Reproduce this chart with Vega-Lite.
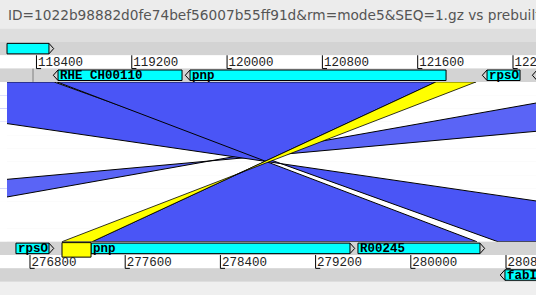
{
  "$schema": "https://vega.github.io/schema/vega-lite/v6.json",
  "width": 536,
  "height": 295,
  "autosize": {"type": "none"},
  "padding": 0,
  "background": "#ececec",
  "title": {
    "text": "ID=1022b98882d0fe74bef56007b55ff91d&rm=mode5&SEQ=1.gz vs prebuilt",
    "anchor": "start", "frame": "group", "offset": 0, "dx": 8, "dy": 33.5,
    "baseline": "alphabetic", "font": "DejaVu Sans", "fontSize": 13.7,
    "fontWeight": "normal", "color": "#555555", "limit": 0
  },
  "config": {"view": {"stroke": null}, "axis": {"disable": true}, "legend": {"disable": true}},
  "datasets": {
    "lanes": [
      {"lane": "t0", "kind": "titlebar"}, {"lane": "t1", "kind": "titlebar"}, {"lane": "t2", "kind": "toolbar"},
      {"lane": "top_fwd", "kind": "track"}, {"lane": "top_scale", "kind": "ruler"}, {"lane": "top_rev", "kind": "track"},
      {"lane": "c01", "kind": "comparison"}, {"lane": "c02", "kind": "comparison"}, {"lane": "c03", "kind": "comparison"},
      {"lane": "c04", "kind": "comparison"}, {"lane": "c05", "kind": "comparison"}, {"lane": "c06", "kind": "comparison"},
      {"lane": "c07", "kind": "comparison"}, {"lane": "c08", "kind": "comparison"}, {"lane": "c09", "kind": "comparison"},
      {"lane": "c10", "kind": "comparison"}, {"lane": "c11", "kind": "comparison"}, {"lane": "c12", "kind": "comparison"},
      {"lane": "bot_fwd", "kind": "track"}, {"lane": "bot_scale", "kind": "ruler"}, {"lane": "bot_rev", "kind": "track"},
      {"lane": "b_end", "kind": "statusbar"}
    ],
    "matches": [
      {"match": "M2", "class": "weaker", "lane": "c01", "from": 123592, "to": 127160},
      {"match": "M2", "class": "weaker", "lane": "bot_fwd", "from": 116037, "to": 112386},
      {"match": "M0", "class": "main", "lane": "c01", "from": 115760, "to": 118547},
      {"match": "M0", "class": "main", "lane": "bot_fwd", "from": 124935, "to": 122274},
      {"match": "M1", "class": "main", "lane": "c01", "from": 118572, "to": 121754},
      {"match": "M1", "class": "main", "lane": "bot_fwd", "from": 122098, "to": 118866},
      {"match": "Y", "class": "selected", "lane": "c01", "from": 121754, "to": 122090},
      {"match": "Y", "class": "selected", "lane": "bot_fwd", "from": 118866, "to": 118614}
    ],
    "top_features": [
      {"name": "", "lane": "top_fwd", "start": 118153, "end": 118505, "strand": "+"},
      {"name": "RHE_CH00110", "lane": "top_rev", "start": 118581, "end": 119622, "strand": "-"},
      {"name": "pnp", "lane": "top_rev", "start": 119689, "end": 121838, "strand": "-"},
      {"name": "rpsO", "lane": "top_rev", "start": 122182, "end": 122459, "strand": "-"},
      {"name": "", "lane": "top_rev", "start": 122602, "end": 123000, "strand": "-"}
    ],
    "top_ticks": [
      {"pos": 118400, "lane": "top_scale"}, {"pos": 119200, "lane": "top_scale"}, {"pos": 120000, "lane": "top_scale"},
      {"pos": 120800, "lane": "top_scale"}, {"pos": 121600, "lane": "top_scale"}, {"pos": 122400, "lane": "top_scale"}
    ],
    "top_markers": [{"pos": 118371, "lane": "top_rev"}],
    "bottom_features": [
      {"name": "rpsO", "lane": "bot_fwd", "start": 276682, "end": 276960, "strand": "+"},
      {"name": "pnp", "lane": "bot_fwd", "start": 277313, "end": 279489, "strand": "+"},
      {"name": "R00245", "lane": "bot_fwd", "start": 279556, "end": 280581, "strand": "+"},
      {"name": "fabI", "lane": "bot_rev", "start": 280791, "end": 281300, "strand": "-"}
    ],
    "bottom_selection": [{"lane": "bot_fwd", "start": 277069, "end": 277313}],
    "bottom_ticks": [
      {"pos": 276800, "lane": "bot_scale"}, {"pos": 277600, "lane": "bot_scale"}, {"pos": 278400, "lane": "bot_scale"},
      {"pos": 279200, "lane": "bot_scale"}, {"pos": 280000, "lane": "bot_scale"}, {"pos": 280800, "lane": "bot_scale"}
    ]
  },
  "layer": [
    {
      "resolve": {"scale": {"color": "independent"}},
      "layer": [
        {
          "data": {"name": "lanes"},
          "transform": [{"filter": "datum.kind == 'comparison'"}],
          "mark": {"type": "rect", "color": "#ffffff"},
          "encoding": {
            "y": {"field": "lane", "type": "nominal", "scale": {"type": "band", "domain": ["t0","t1","t2","top_fwd","top_scale","top_rev","c01","c02","c03","c04","c05","c06","c07","c08","c09","c10","c11","c12","bot_fwd","bot_scale","bot_rev","b_end"], "range": [2, 295], "paddingInner": 0, "paddingOuter": 0}}
          }
        },
        {
          "data": {"name": "matches"},
          "transform": [{"filter": "datum.class != 'selected'"}],
          "mark": {"type": "area", "orient": "horizontal", "stroke": "black", "strokeWidth": 1, "opacity": 1, "clip": true},
          "encoding": {
            "y": {"field": "lane", "type": "nominal", "bandPosition": 0, "scale": {"type": "band", "domain": ["t0","t1","t2","top_fwd","top_scale","top_rev","c01","c02","c03","c04","c05","c06","c07","c08","c09","c10","c11","c12","bot_fwd","bot_scale","bot_rev","b_end"], "range": [2, 295], "paddingInner": 0, "paddingOuter": 0}},
            "x": {"field": "from", "type": "quantitative", "stack": null, "scale": {"domain": [118094, 122593], "nice": false, "zero": false}},
            "x2": {"field": "to"},
            "detail": {"field": "match", "type": "nominal"},
            "color": {"field": "class", "type": "nominal", "scale": {"domain": ["main", "weaker"], "range": ["#4a55f6", "#5a64f6"]}}
          }
        },
        {
          "data": {"name": "matches"},
          "transform": [{"filter": "datum.class == 'selected'"}],
          "mark": {"type": "area", "orient": "horizontal", "stroke": "black", "strokeWidth": 0.8, "color": "#ffff00", "opacity": 1, "clip": true},
          "encoding": {
            "y": {"field": "lane", "type": "nominal", "bandPosition": 0, "scale": {"type": "band", "domain": ["t0","t1","t2","top_fwd","top_scale","top_rev","c01","c02","c03","c04","c05","c06","c07","c08","c09","c10","c11","c12","bot_fwd","bot_scale","bot_rev","b_end"], "range": [2, 295], "paddingInner": 0, "paddingOuter": 0}},
            "x": {"field": "from", "type": "quantitative", "stack": null},
            "x2": {"field": "to"},
            "detail": {"field": "match", "type": "nominal"}
          }
        },
        {
          "data": {"name": "lanes"},
          "transform": [{"filter": "datum.kind == 'comparison'"}],
          "mark": {"type": "rect", "color": "#ffffff"},
          "encoding": {
            "y": {"field": "lane", "type": "nominal", "scale": {"type": "band", "domain": ["t0","t1","t2","top_fwd","top_scale","top_rev","c01","c02","c03","c04","c05","c06","c07","c08","c09","c10","c11","c12","bot_fwd","bot_scale","bot_rev","b_end"], "range": [2, 295], "paddingInner": 0, "paddingOuter": 0}},
            "x": {"datum": 118094, "type": "quantitative"},
            "x2": {"datum": 118153}
          }
        },
        {
          "data": {"name": "lanes"},
          "transform": [{"filter": "datum.kind != 'comparison'"}],
          "mark": {"type": "rect"},
          "encoding": {
            "y": {"field": "lane", "type": "nominal", "scale": {"type": "band", "domain": ["t0","t1","t2","top_fwd","top_scale","top_rev","c01","c02","c03","c04","c05","c06","c07","c08","c09","c10","c11","c12","bot_fwd","bot_scale","bot_rev","b_end"], "range": [2, 295], "paddingInner": 0, "paddingOuter": 0}},
            "color": {"field": "kind", "type": "nominal", "scale": {"domain": ["titlebar", "toolbar", "track", "ruler", "statusbar"], "range": ["#ececec", "#dedede", "#d3d3d3", "#ffffff", "#efefef"]}}
          }
        },
        {
          "data": {"name": "top_features"},
          "mark": {"type": "bar", "height": 10.5, "color": "#00ffff", "stroke": "black", "strokeWidth": 1, "clip": true},
          "encoding": {
            "y": {"field": "lane", "type": "nominal", "scale": {"type": "band", "domain": ["t0","t1","t2","top_fwd","top_scale","top_rev","c01","c02","c03","c04","c05","c06","c07","c08","c09","c10","c11","c12","bot_fwd","bot_scale","bot_rev","b_end"], "range": [2, 295], "paddingInner": 0, "paddingOuter": 0}},
            "x": {"field": "start", "type": "quantitative", "stack": null},
            "x2": {"field": "end"}
          }
        },
        {
          "data": {"name": "top_features"},
          "transform": [{"filter": "datum.strand == '+'"}],
          "mark": {"type": "point", "shape": "M0,-1L0.9,0L0,1", "size": 110, "filled": false, "color": "black", "opacity": 1, "strokeWidth": 1, "clip": true},
          "encoding": {
            "y": {"field": "lane", "type": "nominal", "scale": {"type": "band", "domain": ["t0","t1","t2","top_fwd","top_scale","top_rev","c01","c02","c03","c04","c05","c06","c07","c08","c09","c10","c11","c12","bot_fwd","bot_scale","bot_rev","b_end"], "range": [2, 295], "paddingInner": 0, "paddingOuter": 0}},
            "x": {"field": "end", "type": "quantitative"}
          }
        },
        {
          "data": {"name": "top_features"},
          "transform": [{"filter": "datum.strand == '-'"}],
          "mark": {"type": "point", "shape": "M0,-1L-0.9,0L0,1", "size": 110, "filled": false, "color": "black", "opacity": 1, "strokeWidth": 1, "clip": true},
          "encoding": {
            "y": {"field": "lane", "type": "nominal", "scale": {"type": "band", "domain": ["t0","t1","t2","top_fwd","top_scale","top_rev","c01","c02","c03","c04","c05","c06","c07","c08","c09","c10","c11","c12","bot_fwd","bot_scale","bot_rev","b_end"], "range": [2, 295], "paddingInner": 0, "paddingOuter": 0}},
            "x": {"field": "start", "type": "quantitative"}
          }
        },
        {
          "data": {"name": "top_features"},
          "mark": {"type": "text", "align": "left", "baseline": "middle", "dx": 2, "font": "Liberation Mono", "fontWeight": "bold", "fontSize": 12.5, "color": "black", "clip": true},
          "encoding": {
            "y": {"field": "lane", "type": "nominal", "scale": {"type": "band", "domain": ["t0","t1","t2","top_fwd","top_scale","top_rev","c01","c02","c03","c04","c05","c06","c07","c08","c09","c10","c11","c12","bot_fwd","bot_scale","bot_rev","b_end"], "range": [2, 295], "paddingInner": 0, "paddingOuter": 0}},
            "x": {"field": "start", "type": "quantitative"},
            "text": {"field": "name"}
          }
        },
        {
          "data": {"name": "top_ticks"},
          "mark": {"type": "point", "shape": "M0,-1L0,1L0.7,1", "size": 177, "filled": false, "color": "black", "opacity": 1, "strokeWidth": 1, "clip": true},
          "encoding": {
            "y": {"field": "lane", "type": "nominal", "scale": {"type": "band", "domain": ["t0","t1","t2","top_fwd","top_scale","top_rev","c01","c02","c03","c04","c05","c06","c07","c08","c09","c10","c11","c12","bot_fwd","bot_scale","bot_rev","b_end"], "range": [2, 295], "paddingInner": 0, "paddingOuter": 0}},
            "x": {"field": "pos", "type": "quantitative"}
          }
        },
        {
          "data": {"name": "top_ticks"},
          "mark": {"type": "text", "align": "left", "baseline": "middle", "dx": 1.5, "font": "Liberation Mono", "fontSize": 12.5, "color": "#222222", "clip": true},
          "encoding": {
            "y": {"field": "lane", "type": "nominal", "scale": {"type": "band", "domain": ["t0","t1","t2","top_fwd","top_scale","top_rev","c01","c02","c03","c04","c05","c06","c07","c08","c09","c10","c11","c12","bot_fwd","bot_scale","bot_rev","b_end"], "range": [2, 295], "paddingInner": 0, "paddingOuter": 0}},
            "x": {"field": "pos", "type": "quantitative"},
            "text": {"field": "pos", "type": "quantitative", "format": "d"}
          }
        },
        {
          "data": {"name": "top_markers"},
          "mark": {"type": "point", "shape": "M0,-1L0,1", "size": 177, "filled": false, "color": "#808080", "opacity": 1, "strokeWidth": 1, "clip": true},
          "encoding": {
            "y": {"field": "lane", "type": "nominal", "scale": {"type": "band", "domain": ["t0","t1","t2","top_fwd","top_scale","top_rev","c01","c02","c03","c04","c05","c06","c07","c08","c09","c10","c11","c12","bot_fwd","bot_scale","bot_rev","b_end"], "range": [2, 295], "paddingInner": 0, "paddingOuter": 0}},
            "x": {"field": "pos", "type": "quantitative"}
          }
        }
      ]
    },
    {
      "layer": [
        {
          "data": {"name": "bottom_features"},
          "mark": {"type": "bar", "height": 10.5, "color": "#00ffff", "stroke": "black", "strokeWidth": 1, "clip": true},
          "encoding": {
            "y": {"field": "lane", "type": "nominal", "scale": {"type": "band", "domain": ["t0","t1","t2","top_fwd","top_scale","top_rev","c01","c02","c03","c04","c05","c06","c07","c08","c09","c10","c11","c12","bot_fwd","bot_scale","bot_rev","b_end"], "range": [2, 295], "paddingInner": 0, "paddingOuter": 0}},
            "x": {"field": "start", "type": "quantitative", "stack": null, "scale": {"domain": [276548, 281052], "nice": false, "zero": false}},
            "x2": {"field": "end"}
          }
        },
        {
          "data": {"name": "bottom_selection"},
          "mark": {"type": "bar", "height": 14.5, "yOffset": 1.5, "color": "#ffff00", "stroke": "black", "strokeWidth": 1, "clip": true},
          "encoding": {
            "y": {"field": "lane", "type": "nominal", "scale": {"type": "band", "domain": ["t0","t1","t2","top_fwd","top_scale","top_rev","c01","c02","c03","c04","c05","c06","c07","c08","c09","c10","c11","c12","bot_fwd","bot_scale","bot_rev","b_end"], "range": [2, 295], "paddingInner": 0, "paddingOuter": 0}},
            "x": {"field": "start", "type": "quantitative", "stack": null},
            "x2": {"field": "end"}
          }
        },
        {
          "data": {"name": "bottom_features"},
          "transform": [{"filter": "datum.strand == '+'"}],
          "mark": {"type": "point", "shape": "M0,-1L0.9,0L0,1", "size": 110, "filled": false, "color": "black", "opacity": 1, "strokeWidth": 1, "clip": true},
          "encoding": {
            "y": {"field": "lane", "type": "nominal", "scale": {"type": "band", "domain": ["t0","t1","t2","top_fwd","top_scale","top_rev","c01","c02","c03","c04","c05","c06","c07","c08","c09","c10","c11","c12","bot_fwd","bot_scale","bot_rev","b_end"], "range": [2, 295], "paddingInner": 0, "paddingOuter": 0}},
            "x": {"field": "end", "type": "quantitative"}
          }
        },
        {
          "data": {"name": "bottom_features"},
          "transform": [{"filter": "datum.strand == '-'"}],
          "mark": {"type": "point", "shape": "M0,-1L-0.9,0L0,1", "size": 110, "filled": false, "color": "black", "opacity": 1, "strokeWidth": 1, "clip": true},
          "encoding": {
            "y": {"field": "lane", "type": "nominal", "scale": {"type": "band", "domain": ["t0","t1","t2","top_fwd","top_scale","top_rev","c01","c02","c03","c04","c05","c06","c07","c08","c09","c10","c11","c12","bot_fwd","bot_scale","bot_rev","b_end"], "range": [2, 295], "paddingInner": 0, "paddingOuter": 0}},
            "x": {"field": "start", "type": "quantitative"}
          }
        },
        {
          "data": {"name": "bottom_features"},
          "mark": {"type": "text", "align": "left", "baseline": "middle", "dx": 2, "font": "Liberation Mono", "fontWeight": "bold", "fontSize": 12.5, "color": "black", "clip": true},
          "encoding": {
            "y": {"field": "lane", "type": "nominal", "scale": {"type": "band", "domain": ["t0","t1","t2","top_fwd","top_scale","top_rev","c01","c02","c03","c04","c05","c06","c07","c08","c09","c10","c11","c12","bot_fwd","bot_scale","bot_rev","b_end"], "range": [2, 295], "paddingInner": 0, "paddingOuter": 0}},
            "x": {"field": "start", "type": "quantitative"},
            "text": {"field": "name"}
          }
        },
        {
          "data": {"name": "bottom_ticks"},
          "mark": {"type": "point", "shape": "M0,-1L0,1L0.7,1", "size": 177, "filled": false, "color": "black", "opacity": 1, "strokeWidth": 1, "clip": true},
          "encoding": {
            "y": {"field": "lane", "type": "nominal", "scale": {"type": "band", "domain": ["t0","t1","t2","top_fwd","top_scale","top_rev","c01","c02","c03","c04","c05","c06","c07","c08","c09","c10","c11","c12","bot_fwd","bot_scale","bot_rev","b_end"], "range": [2, 295], "paddingInner": 0, "paddingOuter": 0}},
            "x": {"field": "pos", "type": "quantitative"}
          }
        },
        {
          "data": {"name": "bottom_ticks"},
          "mark": {"type": "text", "align": "left", "baseline": "middle", "dx": 1.5, "font": "Liberation Mono", "fontSize": 12.5, "color": "#222222", "clip": true},
          "encoding": {
            "y": {"field": "lane", "type": "nominal", "scale": {"type": "band", "domain": ["t0","t1","t2","top_fwd","top_scale","top_rev","c01","c02","c03","c04","c05","c06","c07","c08","c09","c10","c11","c12","bot_fwd","bot_scale","bot_rev","b_end"], "range": [2, 295], "paddingInner": 0, "paddingOuter": 0}},
            "x": {"field": "pos", "type": "quantitative"},
            "text": {"field": "pos", "type": "quantitative", "format": "d"}
          }
        }
      ]
    }
  ],
  "resolve": {"scale": {"x": "independent"}}
}
